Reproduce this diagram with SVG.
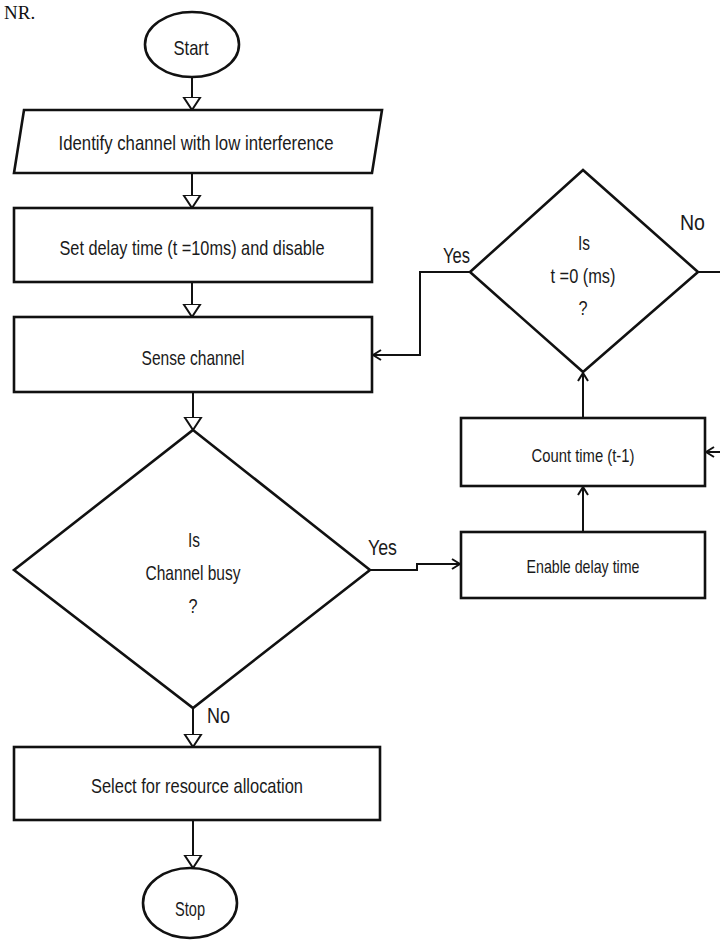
<svg xmlns="http://www.w3.org/2000/svg" width="720" height="940" viewBox="0 0 720 940">
<style>
.shape{fill:#fff;stroke:#111;stroke-width:2.6}
.conn{fill:none;stroke:#111;stroke-width:2}
.t{font-family:"Liberation Sans",Arial,sans-serif;font-size:21px;fill:#1a1a1a;text-anchor:middle}
.s{font-size:19px}
.lbl{font-family:"Liberation Sans",Arial,sans-serif;font-size:22px;fill:#1a1a1a}
</style>
<defs>
<marker id="tri" viewBox="0 -10 15 20" refX="13" refY="0" markerWidth="15" markerHeight="20" markerUnits="userSpaceOnUse" orient="auto">
<path d="M0,-8.5 L13,0 L0,8.5 Z" fill="#fff" stroke="#111" stroke-width="2"/>
</marker>
<marker id="open" viewBox="0 -6 10 12" refX="9" refY="0" markerWidth="10" markerHeight="12" markerUnits="userSpaceOnUse" orient="auto">
<path d="M1,-5 L9,0 L1,5" fill="none" stroke="#111" stroke-width="2"/>
</marker>
</defs>
<rect width="720" height="940" fill="#fff"/>
<text x="4" y="19" font-family="'Liberation Serif',serif" font-size="19" fill="#111">NR.</text>

<g id="connectors">
<path class="conn" d="M192,77 L192,110" marker-end="url(#tri)"/>
<path class="conn" d="M192,173 L192,208" marker-end="url(#tri)"/>
<path class="conn" d="M192,282 L192,317" marker-end="url(#tri)"/>
<path class="conn" d="M193,392 L193,430" marker-end="url(#tri)"/>
<path class="conn" d="M193,708 L193,747" marker-end="url(#tri)"/>
<path class="conn" d="M193,820 L193,868" marker-end="url(#tri)"/>
<path class="conn" d="M370,570 L417,570 L417,564 L460,564" marker-end="url(#open)"/>
<path class="conn" d="M583,532 L583,487" marker-end="url(#open)"/>
<path class="conn" d="M583,418 L583,373" marker-end="url(#open)"/>
<path class="conn" d="M470,272 L420,272 L420,355 L373,355" marker-end="url(#open)"/>
<path class="conn" d="M698,272 L722,272"/>
<path class="conn" d="M722,452 L706,452" marker-end="url(#open)"/>
</g>

<g id="start">
<ellipse class="shape" cx="192" cy="44.5" rx="47" ry="32.5"/>
<text class="t" x="191" y="55" textLength="35" lengthAdjust="spacingAndGlyphs">Start</text>
</g>
<g id="identify">
<polygon class="shape" points="24,110 382,110 372,173 14,173"/>
<text class="t" x="196" y="150" textLength="275" lengthAdjust="spacingAndGlyphs">Identify channel with low interference</text>
</g>
<g id="setdelay">
<rect class="shape" x="14" y="208" width="358" height="74"/>
<text class="t" x="192" y="255" textLength="265" lengthAdjust="spacingAndGlyphs">Set delay time (t =10ms) and disable</text>
</g>
<g id="sense">
<rect class="shape" x="14" y="317" width="358" height="75"/>
<text class="t" x="193" y="365" textLength="103" lengthAdjust="spacingAndGlyphs">Sense channel</text>
</g>
<g id="busy">
<polygon class="shape" points="193,430 370,570 193,708 14,570"/>
<text class="t" x="194" y="547" textLength="12" lengthAdjust="spacingAndGlyphs">Is</text>
<text class="t" x="193" y="580" textLength="95" lengthAdjust="spacingAndGlyphs">Channel busy</text>
<text class="t" x="193" y="613" textLength="9" lengthAdjust="spacingAndGlyphs">?</text>
</g>
<g id="select">
<rect class="shape" x="14" y="747" width="366" height="73"/>
<text class="t" x="197" y="793" textLength="212" lengthAdjust="spacingAndGlyphs">Select for resource allocation</text>
</g>
<g id="stop">
<ellipse class="shape" cx="190" cy="903" rx="47" ry="35"/>
<text class="t" x="190" y="916" textLength="30" lengthAdjust="spacingAndGlyphs">Stop</text>
</g>
<g id="enable">
<rect class="shape" x="461" y="532" width="244" height="66"/>
<text class="t s" x="583" y="573" textLength="113" lengthAdjust="spacingAndGlyphs">Enable delay time</text>
</g>
<g id="count">
<rect class="shape" x="461" y="418" width="244" height="68"/>
<text class="t s" x="583" y="462" textLength="103" lengthAdjust="spacingAndGlyphs">Count time (t-1)</text>
</g>
<g id="tzero">
<polygon class="shape" points="583,170 698,272 583,372 470,272"/>
<text class="t" x="584" y="250" textLength="12" lengthAdjust="spacingAndGlyphs">Is</text>
<text class="t" x="583" y="283" textLength="65" lengthAdjust="spacingAndGlyphs">t =0 (ms)</text>
<text class="t" x="583" y="315" textLength="9" lengthAdjust="spacingAndGlyphs">?</text>
</g>

<g id="labels">
<text class="lbl" x="443" y="263" textLength="27" lengthAdjust="spacingAndGlyphs">Yes</text>
<text class="lbl" x="680" y="230" textLength="25" lengthAdjust="spacingAndGlyphs">No</text>
<text class="lbl" x="368" y="555" textLength="29" lengthAdjust="spacingAndGlyphs">Yes</text>
<text class="lbl" x="207" y="723" textLength="23" lengthAdjust="spacingAndGlyphs">No</text>
</g>
</svg>
